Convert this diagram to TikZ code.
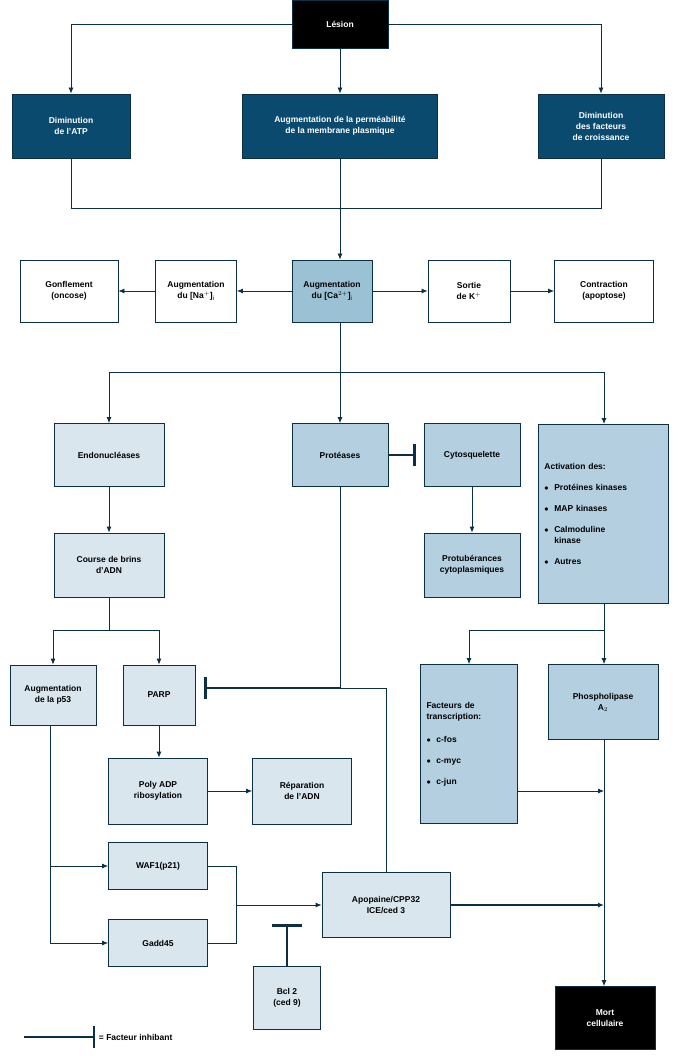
\documentclass[tikz,border=0pt]{standalone}
\usepackage{fontspec}
\setmainfont{Liberation Sans}
\usetikzlibrary{arrows.meta}
\definecolor{darkblue}{HTML}{0A4A6E}
\definecolor{linecol}{HTML}{0B2F45}
\definecolor{midblue}{HTML}{9BC1D4}
\definecolor{paleblue}{HTML}{B3CFE0}
\definecolor{lightblue}{HTML}{D9E6EE}
\begin{document}
\begin{tikzpicture}[x=1pt, y=-1pt,
    box/.style={rectangle, draw=linecol, thick, align=center, font=\bfseries\fontsize{8.5}{11}\selectfont, inner sep=2pt},
    darkbox/.style={box, fill=darkblue, text=white},
    blackbox/.style={box, fill=black, text=white},
    arr/.style={-{Latex[length=6pt,width=5pt]}, linecol, thick},
    inh/.style={-{Bar[width=22pt,line width=2.5pt]}, linecol, very thick},
    line/.style={linecol, thick}
]
    \useasboundingbox (0,0) rectangle (700,1056);
    % top row
    \node[blackbox, minimum width=96pt, minimum height=48pt] (lesion) at (340,24) {Lésion};
    \node[darkbox, minimum width=118pt, minimum height=64pt] (atp) at (71,126) {Diminution\\de l'ATP};
    \node[darkbox, minimum width=195pt, minimum height=64pt] (perm) at (340,126) {Augmentation de la perméabilité\\de la membrane plasmique};
    \node[darkbox, minimum width=126pt, minimum height=64pt] (facteurs) at (601,126) {Diminution\\des facteurs\\de croissance};
    % second row
    \node[box, fill=white, minimum width=98pt, minimum height=62pt] (gonfl) at (69,291) {Gonflement\\(oncose)};
    \node[box, fill=white, minimum width=81pt, minimum height=62pt] (na) at (196,291) {Augmentation\\du [Na$^+$]$_\mathrm{i}$};
    \node[box, fill=midblue, minimum width=80pt, minimum height=62pt] (ca) at (332,291) {Augmentation\\du [Ca$^{2+}$]$_\mathrm{i}$};
    \node[box, fill=white, minimum width=82pt, minimum height=62pt] (sortie) at (469,291) {Sortie\\de K$^+$};
    \node[box, fill=white, minimum width=99pt, minimum height=62pt] (contr) at (604,291) {Contraction\\(apoptose)};
    % third row
    \node[box, fill=lightblue, minimum width=110pt, minimum height=63pt] (endo) at (109,455) {Endonucléases};
    \node[box, fill=paleblue, minimum width=96pt, minimum height=63pt] (prot) at (340,455) {Protéases};
    \node[box, fill=paleblue, minimum width=96pt, minimum height=63pt] (cyto) at (472,455) {Cytosquelette};
    \node[box, fill=paleblue, minimum width=130pt, minimum height=179pt, align=left, anchor=north west, text width=118pt] (activ) at (538,424) {Activation des:\\[10pt]$\bullet$~ Protéines kinases\\[10pt]$\bullet$~ MAP kinases\\[10pt]$\bullet$~ Calmoduline\\\phantom{$\bullet$~ }kinase\\[10pt]$\bullet$~ Autres};
    \node[box, fill=lightblue, minimum width=110pt, minimum height=64pt] (course) at (109,565) {Course de brins\\d'ADN};
    \node[box, fill=paleblue, minimum width=96pt, minimum height=64pt] (protub) at (472,565) {Protubérances\\cytoplasmiques};
    % fourth row
    \node[box, fill=lightblue, minimum width=86pt, minimum height=60pt] (p53) at (53,695) {Augmentation\\de la p53};
    \node[box, fill=lightblue, minimum width=72pt, minimum height=60pt] (parp) at (159,695) {PARP};
    \node[box, fill=paleblue, minimum width=97pt, minimum height=159pt, align=left, text width=85pt] (transc) at (469,744) {Facteurs de\\transcription:\\[12pt]$\bullet$~ c-fos\\[10pt]$\bullet$~ c-myc\\[10pt]$\bullet$~ c-jun};
    \node[box, fill=paleblue, minimum width=110pt, minimum height=75pt] (phos) at (603,702) {Phospholipase\\A$_2$};
    \node[box, fill=lightblue, minimum width=99pt, minimum height=66pt] (poly) at (158,791) {Poly ADP\\ribosylation};
    \node[box, fill=lightblue, minimum width=99pt, minimum height=66pt] (repar) at (302,791) {Réparation\\de l'ADN};
    \node[box, fill=lightblue, minimum width=99pt, minimum height=47pt] (waf) at (158,866) {WAF1(p21)};
    \node[box, fill=lightblue, minimum width=99pt, minimum height=47pt] (gadd) at (158,943) {Gadd45};
    \node[box, fill=lightblue, minimum width=128pt, minimum height=65pt] (apo) at (386,905) {Apopaine/CPP32\\ICE/ced 3};
    \node[box, fill=lightblue, minimum width=67pt, minimum height=63pt] (bcl) at (287,998) {Bcl 2\\(ced 9)};
    \node[blackbox, minimum width=100pt, minimum height=63pt] (mort) at (605,1018) {Mort\\cellulaire};

    \draw[arr] (lesion.west) -| (atp.north);
    \draw[arr] (lesion.east) -| (facteurs.north);
    \draw[arr] (lesion.south) -- (perm.north);
    \draw[line] (atp.south) |- (0,208 -| facteurs.south) -- (facteurs.south);
    \draw[arr] (perm.south) -- (ca.north -| perm.south);

    \draw[arr] (ca.west) -- (na.east);
    \draw[arr] (na.west) -- (gonfl.east);
    \draw[arr] (ca.east) -- (sortie.west);
    \draw[arr] (sortie.east) -- (contr.west);

    \coordinate (b1) at (340,372);
    \draw[line] (ca.south -| b1) -- (b1);
    \draw[arr] (b1) -| (endo.north);
    \draw[arr] (b1) -- (prot.north);
    \draw[arr] (b1) -| (604,424);
    \draw[inh] (prot.east) -- ([xshift=-8pt]cyto.west);
    \draw[arr] (cyto.south) -- (protub.north);
    \draw[arr] (endo.south) -- (course.north);

    \coordinate (b2) at (109,630);
    \draw[line] (course.south) -- (b2);
    \draw[arr] (b2) -| (p53.north);
    \draw[arr] (b2) -| (parp.north);
    \coordinate (b4) at (604,630);
    \draw[line] (activ.south -| b4) -- (b4);
    \draw[arr] (b4) -| (transc.north);
    \draw[arr] (b4) -- (phos.north -| b4);

    \coordinate (b3) at (340,688);
    \draw[line] (prot.south) -- (b3);
    \draw[inh] (b3) -- ([xshift=9pt]parp.east |- b3);
    \draw[line] (b3) -| (apo.north);
    \draw[arr] (parp.south) -- (poly.north -| parp.south);
    \draw[arr] (poly.east) -- (repar.west);

    \draw[line] (p53.south -| 50,0) -- (50,943);
    \draw[arr] (50,866) -- (waf.west);
    \draw[arr] (50,943) -- (gadd.west);
    \coordinate (c1) at (236,866);
    \draw[line] (waf.east) -- (c1) -- (c1 |- gadd.east) -- (gadd.east);
    \draw[arr] (c1 |- apo.west) -- (apo.west);
    \coordinate (bclbar) at (287,924);
    \draw[inh, -{Bar[width=30pt,line width=3pt]}] (bcl.north) -- (bclbar);

    \draw[arr, very thick] (apo.east) -- (apo.east -| b4);
    \draw[arr] (transc.east |- 0,791) -- (b4 |- 0,791);
    \draw[arr] (phos.south -| b4) -- (mort.north -| b4);

    % legende
    \coordinate (l1) at (24,1037);
    \coordinate (l2) at (95,1037);
    \draw[inh] (l1) -- (l2) node[right, font=\bfseries\fontsize{8.5}{11}\selectfont, text=black] {= Facteur inhibant};
\end{tikzpicture}
\end{document}
